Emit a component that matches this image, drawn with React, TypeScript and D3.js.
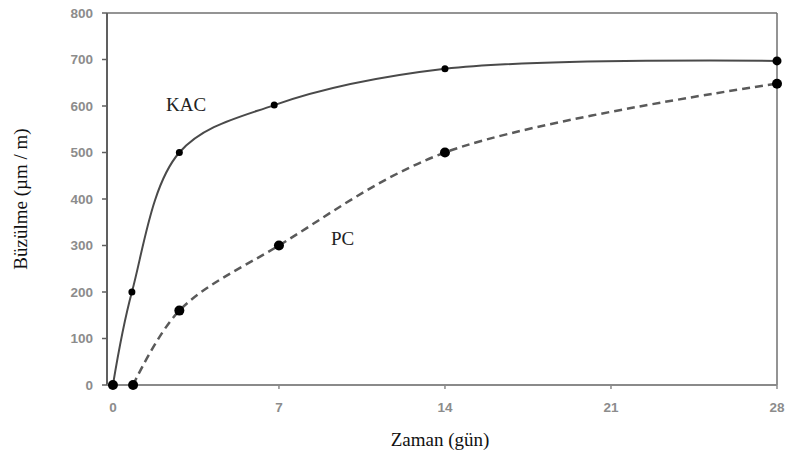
import React from 'react';
import * as d3 from 'd3';

// Shrinkage (µm/m) vs time (days) for KAC and PC mixes.

const KAC_DAYS = [0, 0.8, 2.8, 6.8, 14, 28];
const KAC_VALUES = [0, 200, 500, 602, 680, 697];
const PC_DAYS = [0.85, 2.8, 7, 14, 28];
const PC_VALUES = [0, 160, 300, 500, 648];
const X_TICKS = [0, 7, 14, 21, 28];
const Y_TICKS = [0, 100, 200, 300, 400, 500, 600, 700, 800];

const W = 789;
const H = 456;
const LEFT = 107;
const RIGHT = 777;
const TOP = 13;
const BOTTOM = 385;

export default function App() {
  const x = d3.scaleLinear().domain([-0.25, 28]).range([LEFT, RIGHT]);
  const y = d3.scaleLinear().domain([0, 800]).range([BOTTOM, TOP]);

  const line = d3
    .line<[number, number]>()
    .x((d) => x(d[0]))
    .y((d) => y(d[1]))
    .curve(d3.curveCatmullRom.alpha(0.5));

  const kac = KAC_DAYS.map((d, i) => [d, KAC_VALUES[i]] as [number, number]);
  const pc = PC_DAYS.map((d, i) => [d, PC_VALUES[i]] as [number, number]);

  const tickFont = {
    fontFamily: '"Liberation Sans", Arial, sans-serif',
    fontWeight: 700,
    fontSize: 13.5,
    fill: '#8c8c8c',
  };
  const serif = '"Liberation Serif", "Times New Roman", serif';

  return (
    <svg
      width={W}
      height={H}
      viewBox={`0 0 ${W} ${H}`}
      style={{ position: 'absolute', left: 0, top: 0, background: '#fff' }}
    >
      {/* frame */}
      <line x1={LEFT} x2={RIGHT} y1={TOP} y2={TOP} stroke="#707070" strokeWidth={1.5} />
      <line x1={RIGHT} x2={RIGHT} y1={TOP} y2={BOTTOM} stroke="#707070" strokeWidth={1.5} />
      <line x1={LEFT} x2={LEFT} y1={TOP} y2={BOTTOM} stroke="#606060" strokeWidth={2} />
      <line x1={LEFT} x2={RIGHT} y1={BOTTOM} y2={BOTTOM} stroke="#8a8a8a" strokeWidth={2} />

      {/* y ticks */}
      {Y_TICKS.map((t) => (
        <g key={`y-${t}`}>
          <line x1={LEFT - 5} x2={LEFT} y1={y(t)} y2={y(t)} stroke="#606060" strokeWidth={1.5} />
          <text x={93} y={y(t)} dy="0.35em" textAnchor="end" {...tickFont}>
            {t}
          </text>
        </g>
      ))}

      {/* x ticks */}
      {X_TICKS.map((t) => (
        <g key={`x-${t}`}>
          <line x1={x(t)} x2={x(t)} y1={BOTTOM} y2={BOTTOM + 4} stroke="#8a8a8a" strokeWidth={1.5} />
          <text x={x(t)} y={412} textAnchor="middle" {...tickFont}>
            {t}
          </text>
        </g>
      ))}

      {/* series */}
      <path d={line(kac) ?? ''} fill="none" stroke="#4a4a4a" strokeWidth={2} />
      <path
        d={line(pc) ?? ''}
        fill="none"
        stroke="#5a5a5a"
        strokeWidth={2.5}
        strokeDasharray="8 5"
      />
      {kac.map((d, i) => (
        <circle
          key={`k-${i}`}
          cx={x(d[0])}
          cy={y(d[1])}
          r={d[1] === 0 ? 5 : d[0] >= 28 ? 4.5 : 3.5}
          fill="#000"
        />
      ))}
      {pc.map((d, i) => (
        <circle key={`p-${i}`} cx={x(d[0])} cy={y(d[1])} r={5} fill="#000" />
      ))}

      {/* series labels */}
      <text x={166} y={111} fontFamily={serif} fontSize={19} fill="#222">
        KAC
      </text>
      <text x={331} y={245} fontFamily={serif} fontSize={19} fill="#222">
        PC
      </text>

      {/* axis titles */}
      <text x={440} y={446} textAnchor="middle" fontFamily={serif} fontSize={19} fill="#111">
        Zaman (gün)
      </text>
      <text
        transform={`translate(27, ${(TOP + BOTTOM) / 2}) rotate(-90)`}
        textAnchor="middle"
        fontFamily={serif}
        fontSize={19}
        fill="#111"
      >
        Büzülme (µm / m)
      </text>
    </svg>
  );
}
